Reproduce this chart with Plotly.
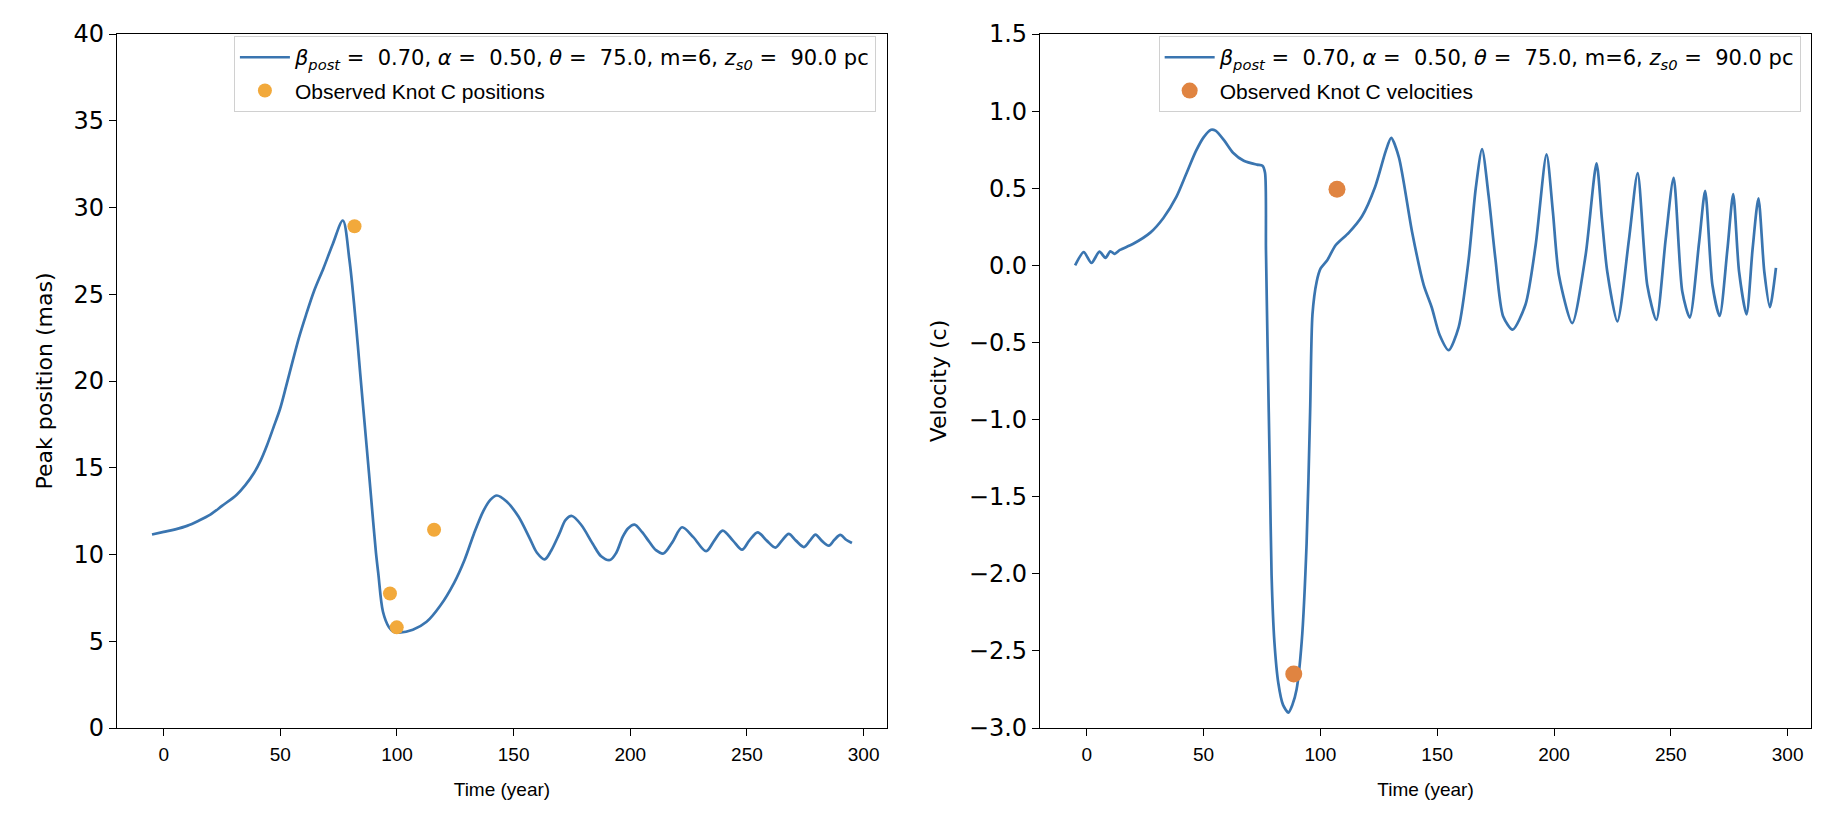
import plotly.graph_objects as go

# ---- Left panel: peak position (mas) vs time (year) ----
t_pos = [-5, 0, 5, 10, 15, 20, 25, 31.3, 35, 38.7, 41.5, 44.3, 47, 49.9, 52.5, 55.4,
         58, 61.0, 64.5, 68.5, 72.5, 76.8, 79.6, 82.4, 84.2, 86.1, 88, 89.8, 91, 92.0,
         94.0, 96.6, 98.5, 100.9, 106.8, 112.7, 118.6, 124.5, 129, 133, 137, 140, 142.8,
         147, 152, 157, 160, 163.3, 166, 169.6, 172.3, 175, 179, 183.9, 187.5, 191.3,
         194, 196.7, 199, 201.8, 205, 208.2, 211, 214.2, 218, 222.2, 227, 232.5, 236,
         239.6, 244, 247.9, 251, 254.6, 258.5, 262.2, 265, 267.9, 271, 274.4, 277, 279.4,
         282, 285.1, 287.5, 290, 292.5, 295]
pos = [11.15, 11.3, 11.45, 11.65, 11.95, 12.3, 12.8, 13.45, 14.0, 14.7, 15.4, 16.3,
       17.3, 18.4, 19.7, 21.2, 22.5, 23.8, 25.2, 26.5, 27.9, 29.25, 27.0, 23.3, 20.5,
       17.6, 14.7, 11.9, 10.1, 8.9, 6.7, 5.8, 5.55, 5.5, 5.66, 6.12, 7.06, 8.37, 9.7,
       11.2, 12.5, 13.15, 13.4, 13.05, 12.2, 10.9, 10.1, 9.72, 10.2, 11.2, 12.0, 12.22,
       11.7, 10.62, 9.9, 9.68, 10.1, 11.0, 11.5, 11.72, 11.3, 10.72, 10.25, 10.06, 10.7,
       11.57, 11.0, 10.19, 10.8, 11.38, 10.8, 10.28, 10.8, 11.28, 10.8, 10.4, 10.8,
       11.19, 10.8, 10.43, 10.8, 11.15, 10.8, 10.51, 10.85, 11.13, 10.85, 10.66]

obs_pos_t = [81.8, 97.0, 99.9, 115.9]
obs_pos = [28.92, 7.75, 5.8, 11.43]

# ---- Right panel: velocity (c) vs time (year) ----
t_vel = [-5, -1.3, 2.0, 5.4, 8.0, 10.1, 11.9, 14.2, 19.7, 27.2, 32.8, 38.4, 42.5, 46.7,
         50, 53.2, 55.1, 58.8, 62.6, 67.2, 72.8, 75.2, 76.3, 76.7, 77.4, 78.4, 79.1,
         80.3, 82.0, 84, 86.3, 88, 89.8, 92.0, 94.1, 95.6, 96.6, 98.4, 100.1, 103,
         106.5, 112.2, 117.8, 123.4, 128.0, 130.3, 133.6, 139.2, 144.2, 147.7, 151,
         154.9, 159.2, 163.5, 166.5, 169.2, 172, 174.9, 178.2, 182.3, 187.8, 192.1,
         196.8, 199.5, 202.1, 207.8, 213.5, 218.2, 220.5, 222.8, 227.1, 232.1, 235.8,
         239.9, 243.8, 247.8, 251.2, 254.9, 258.1, 262.1, 264.7, 267.8, 270.9, 274.2,
         276.7, 279.2, 282.4, 285.0, 287.5, 290.0, 292.4, 295.0]
vel = [0.0, 0.085, 0.015, 0.089, 0.049, 0.091, 0.074, 0.1, 0.138, 0.212, 0.307, 0.445,
       0.59, 0.74, 0.83, 0.879, 0.873, 0.81, 0.73, 0.678, 0.653, 0.646, 0.6, 0.1,
       -0.53, -1.377, -2.01, -2.44, -2.71, -2.85, -2.90, -2.85, -2.75, -2.44, -1.80,
       -0.95, -0.318, -0.106, -0.02, 0.035, 0.13, 0.212, 0.318, 0.508, 0.742, 0.826,
       0.70, 0.22, -0.127, -0.275, -0.45, -0.55, -0.40, 0.043, 0.5, 0.753, 0.45, 0.043,
       -0.33, -0.417, -0.254, 0.127, 0.72, 0.35, -0.064, -0.375, 0.064, 0.661, 0.3,
       -0.042, -0.364, 0.17, 0.598, -0.127, -0.354, 0.17, 0.568, -0.17, -0.339, 0.148,
       0.483, -0.127, -0.328, 0.1, 0.462, -0.04, -0.318, 0.106, 0.435, -0.04, -0.271,
       -0.017]

obs_vel_t = [88.6, 107.1]
obs_vel = [-2.65, 0.494]

x_ticks = [0, 50, 100, 150, 200, 250, 300]
y_ticks_pos = [0, 5, 10, 15, 20, 25, 30, 35, 40]
y_ticks_vel = [-3.0, -2.5, -2.0, -1.5, -1.0, -0.5, 0.0, 0.5, 1.0, 1.5]

model_label = ("<i>β<sub>post</sub></i>\u00a0=\u00a0 0.70, <i>α</i>\u00a0=\u00a0 0.50, "
               "<i>θ</i>\u00a0=\u00a0 75.0, m=6, <i>z<sub>s0</sub></i>\u00a0=\u00a0 90.0 pc")

BLUE = "#3a75b0"
ORANGE_L = "#f2a93b"
ORANGE_R = "#e08441"

fig = go.Figure()
fig.add_trace(go.Scatter(x=t_pos, y=pos, mode="lines", name=model_label,
                         line=dict(color=BLUE, width=2.7, shape="spline", smoothing=0.9),
                         xaxis="x", yaxis="y", legend="legend", legendgroup="a"))
fig.add_trace(go.Scatter(x=obs_pos_t, y=obs_pos, mode="markers",
                         name="<span style='font-family:Liberation Sans'>Observed Knot C positions</span>",
                         marker=dict(color=ORANGE_L, size=14),
                         xaxis="x", yaxis="y", legend="legend", legendgroup="b"))
fig.add_trace(go.Scatter(x=t_vel, y=vel, mode="lines", name=model_label,
                         line=dict(color=BLUE, width=2.7, shape="spline", smoothing=0.7),
                         xaxis="x2", yaxis="y2", legend="legend2", legendgroup="c"))
fig.add_trace(go.Scatter(x=obs_vel_t, y=obs_vel, mode="markers",
                         name="<span style='font-family:Liberation Sans'>Observed Knot C velocities</span>",
                         marker=dict(color=ORANGE_R, size=17),
                         xaxis="x2", yaxis="y2", legend="legend2", legendgroup="d"))

axis_common = dict(showline=True, linecolor="black", linewidth=1.3, mirror=True,
                   ticks="outside", ticklen=7, tickwidth=1.3, tickcolor="black",
                   showgrid=False, zeroline=False)
xfont = dict(family="Liberation Sans", size=19, color="black")
yfont = dict(family="DejaVu Sans", size=24, color="black")
ytitle_font = dict(family="DejaVu Sans", size=22, color="black")

legend_common = dict(xanchor="right", yanchor="top", bgcolor="white",
                     bordercolor="#d0d0d0", borderwidth=1,
                     font=dict(family="DejaVu Sans", size=21, color="black"),
                     itemwidth=50, traceorder="grouped", tracegroupgap=3)

fig.update_layout(
    width=1828, height=804,
    paper_bgcolor="white", plot_bgcolor="white",
    margin=dict(l=109, r=25, t=14, b=84, pad=0),
    showlegend=True,
    xaxis=dict(domain=[0, 0.4545], range=[-20, 310], tickvals=x_ticks,
               tickfont=xfont, ticklabelstandoff=2,
               title=dict(text="Time (year)", font=xfont, standoff=18), **axis_common),
    yaxis=dict(range=[0, 40], tickvals=y_ticks_pos, tickfont=yfont,
               title=dict(text="Peak position (mas)", font=ytitle_font, standoff=14),
               **axis_common),
    xaxis2=dict(domain=[0.5449, 1], range=[-20, 310], tickvals=x_ticks, anchor="y2",
                tickfont=xfont, ticklabelstandoff=2,
                title=dict(text="Time (year)", font=xfont, standoff=18), **axis_common),
    yaxis2=dict(range=[-3.0, 1.5], tickvals=y_ticks_vel, tickformat=".1f", anchor="x2",
                tickfont=yfont,
                title=dict(text="Velocity (c)", font=ytitle_font, standoff=16),
                **axis_common),
    legend=dict(x=0.448, y=0.997, **legend_common),
    legend2=dict(x=0.9939, y=0.997, **legend_common),
)

fig.write_html("out.html")
